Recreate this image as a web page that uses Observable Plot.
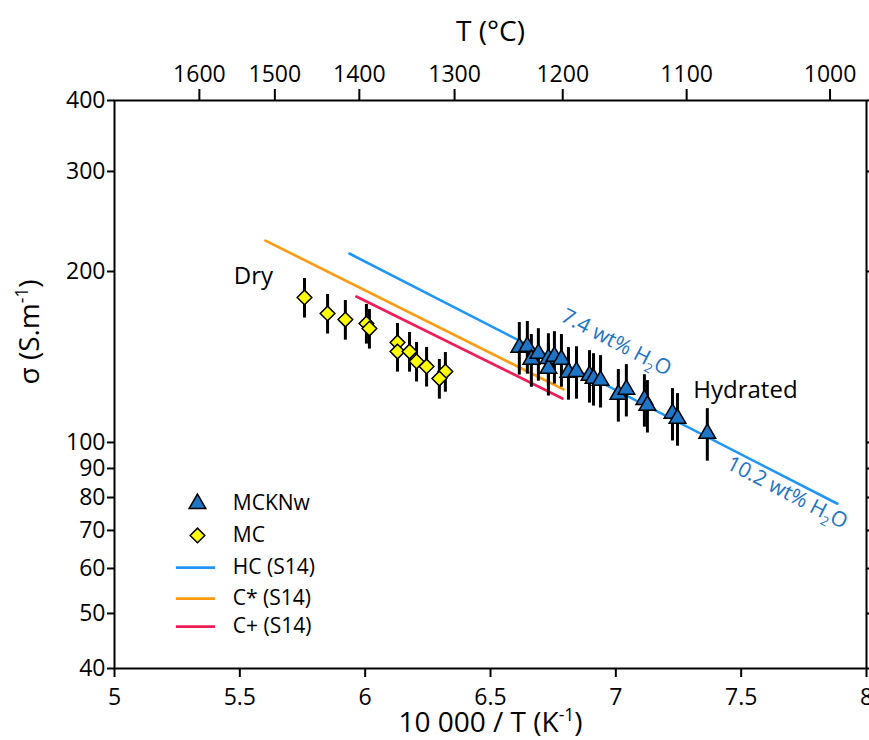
<!DOCTYPE html>
<html>
<head>
<meta charset="utf-8">
<script src="https://cdn.jsdelivr.net/npm/d3@7"></script>
<script src="https://cdn.jsdelivr.net/npm/@observablehq/plot@0.6"></script>
<style>
  html, body { margin: 0; padding: 0; background: white; }
  #chart { width: 869px; height: 740px; }
</style>
</head>
<body>
<div id="chart"></div>
<script>
// ---- Data ----
// MCKNw (hydrated samples): x = 10000/T (K^-1), y = sigma (S/m), err = +/- sigma
const mcknwX = [6.615, 6.647, 6.663, 6.691, 6.731, 6.731, 6.755, 6.783, 6.811, 6.843,
                6.895, 6.911, 6.939, 7.010, 7.042, 7.114, 7.126, 7.226, 7.246, 7.365];
const mcknwY = [147.0, 147.6, 140.0, 143.4, 140.5, 135.0, 141.7, 140.0, 132.8, 133.3,
                131.2, 129.6, 128.6, 121.5, 124.0, 119.0, 116.2, 112.5, 110.2, 103.7];
const mcknwErr = [15.6, 15.7, 14.9, 15.2, 14.9, 14.3, 15.0, 14.9, 14.1, 14.1,
                  13.9, 13.7, 13.6, 12.9, 13.1, 12.6, 12.3, 11.9, 11.7, 11.0];

// MC (dry samples)
const mcX = [5.758, 5.850, 5.921, 6.005, 6.017, 6.129, 6.129, 6.177, 6.205, 6.245, 6.320, 6.296];
const mcY = [180.0, 168.7, 164.6, 162.0, 158.7, 150.0, 144.6, 144.6, 138.9, 136.1, 133.3, 129.6];
const mcErr = [14.4, 13.5, 13.2, 13.0, 12.7, 12.0, 11.6, 11.6, 11.1, 10.9, 10.7, 10.4];

// S14 model lines (end points)
const hcX = [5.937, 7.884],   hcY = [215.1, 78.0];
const cStarX = [5.602, 6.791], cStarY = [226.7, 124.0];
const cPlusX = [5.965, 6.787], cPlusY = [180.7, 119.5];

// Axis ticks
const xTicks = [5, 5.5, 6, 6.5, 7, 7.5, 8];
const yTicks = [40, 50, 60, 70, 80, 90, 100, 200, 300, 400];
const topTicksC = [1000, 1100, 1200, 1300, 1400, 1500, 1600];

// Annotations
const annotText = ["Dry", "Hydrated"];
const annotX = [5.554, 7.517];
const annotY = [196.0, 123.4];
const wtText = ["7.4 wt% H_{2}O", "10.2 wt% H_{2}O"];
const wtX = [7.002, 7.684];
const wtY = [150.0, 81.6];

const legendLabels = ["MCKNw", "MC", "HC (S14)", "C* (S14)", "C+ (S14)"];

// ---- Styles ----
const C_HC = "#1e96f8", C_STAR = "#ff9a0e", C_PLUS = "#ee1d57";
const C_TRI = "#1f76c6", C_DIA = "#ffff00", C_WT = "#1c74c6";

const mcknw = mcknwX.map((x, i) => ({x, y: mcknwY[i], e: mcknwErr[i]}));
const mc = mcX.map((x, i) => ({x, y: mcY[i], e: mcErr[i]}));
const toLine = (xs, ys) => xs.map((x, i) => ({x, y: ys[i]}));
const annots = annotText.map((t, i) => ({t, x: annotX[i], y: annotY[i]}));
const wts = wtText.map((t, i) => ({t, x: wtX[i], y: wtY[i]}));

const plot = Plot.plot({
  width: 869,
  height: 740,
  marginLeft: 114,
  marginRight: 3,
  marginTop: 100,
  marginBottom: 72,
  style: {fontFamily: "'Open Sans', sans-serif", fontSize: "22px", color: "black", background: "white"},
  x: {domain: [5, 8]},
  y: {type: "log", domain: [40, 400]},
  marks: [
    // model lines
    Plot.line(toLine(hcX, hcY), {x: "x", y: "y", stroke: C_HC, strokeWidth: 2.6}),
    Plot.line(toLine(cStarX, cStarY), {x: "x", y: "y", stroke: C_STAR, strokeWidth: 2.6}),
    Plot.line(toLine(cPlusX, cPlusY), {x: "x", y: "y", stroke: C_PLUS, strokeWidth: 2.6}),
    // error bars and points
    Plot.ruleX(mc, {x: "x", y1: d => d.y - d.e, y2: d => d.y + d.e, stroke: "black", strokeWidth: 3}),
    Plot.dot(mc, {x: "x", y: "y", symbol: "diamond2", r: 6.6, fill: C_DIA, stroke: "black", strokeWidth: 1.5}),
    Plot.ruleX(mcknw, {x: "x", y1: d => d.y - d.e, y2: d => d.y + d.e, stroke: "black", strokeWidth: 3}),
    Plot.dot(mcknw, {x: "x", y: "y", symbol: "triangle", r: 6.2, fill: C_TRI, stroke: "black", strokeWidth: 1.5}),
    // annotations
    Plot.text(annots, {x: "x", y: "y", text: "t", fontSize: 24, fill: "black"}),
    Plot.text(wts, {x: "x", y: "y", text: "t", fontSize: 21, fill: C_WT, rotate: 27.5}),
    // legend
    Plot.dot([0], {x: 5.331, y: 78.0, symbol: "triangle", r: 6.2, fill: C_TRI, stroke: "black", strokeWidth: 1.5}),
    Plot.dot([0], {x: 5.331, y: 68.6, symbol: "diamond2", r: 6.6, fill: C_DIA, stroke: "black", strokeWidth: 1.5}),
    Plot.ruleY([60.2], {x1: 5.247, x2: 5.403, stroke: C_HC, strokeWidth: 2.6}),
    Plot.ruleY([53.1], {x1: 5.247, x2: 5.403, stroke: C_STAR, strokeWidth: 2.6}),
    Plot.ruleY([47.4], {x1: 5.247, x2: 5.403, stroke: C_PLUS, strokeWidth: 2.6}),
    Plot.text(legendLabels, {x: 5.472, y: (d, i) => [78.0, 68.6, 60.2, 53.1, 47.4][i], text: d => d, textAnchor: "start", fontSize: 21}),
    // frame & axes
    Plot.frame({stroke: "black", strokeWidth: 2}),
    Plot.axisX({anchor: "bottom", ticks: xTicks, tickFormat: d => String(d), tickSize: 9, tickPadding: 11, strokeWidth: 2, fontSize: 23, label: null}),
    Plot.axisX({anchor: "top", ticks: topTicksC.map(T => 10000 / (T + 273.15)), tickFormat: d => String(Math.round(10000 / d - 273.15)), tickSize: 12, tickPadding: 7, strokeWidth: 2, fontSize: 23, label: null}),
    Plot.axisY({anchor: "left", ticks: yTicks, tickFormat: d => String(d), tickSize: 7, tickPadding: 2, strokeWidth: 2, fontSize: 23, label: null}),
    Plot.axisY({anchor: "right", ticks: yTicks, tickFormat: () => "", tickSize: 6, strokeWidth: 2, label: null}),
    // axis titles
    Plot.text(["T (°C)"], {frameAnchor: "top", dy: -68, lineAnchor: "middle", text: d => d, fontSize: 28}),
    Plot.text(["10 000 / T (K^{-1})"], {frameAnchor: "bottom", dy: 55, lineAnchor: "middle", text: d => d, fontSize: 28}),
    Plot.text(["σ (S.m^{-1})"], {frameAnchor: "left", dx: -84, lineAnchor: "middle", rotate: -90, text: d => d, fontSize: 28})
  ]
});

document.getElementById("chart").appendChild(plot);

// Convert ^{..} and _{..} markers into superscript / subscript tspans
plot.querySelectorAll("text").forEach(el => {
  const s = el.textContent;
  if (!/[\^_]\{/.test(s)) return;
  const fs = parseFloat(getComputedStyle(el).fontSize) || 22;
  const parts = s.split(/([\^_]\{[^}]*\})/);
  while (el.firstChild) el.removeChild(el.firstChild);
  const ns = "http://www.w3.org/2000/svg";
  let shift = 0;
  parts.forEach(p => {
    if (!p) return;
    const t = document.createElementNS(ns, "tspan");
    const m = p.match(/^([\^_])\{([^}]*)\}$/);
    if (m) {
      const up = m[1] === "^";
      const d = up ? -0.4 * fs : 0.28 * fs;
      t.setAttribute("dy", (d - shift).toFixed(2));
      shift = d;
      t.setAttribute("font-size", (0.62 * fs).toFixed(1));
      t.textContent = m[2];
    } else {
      if (shift !== 0) { t.setAttribute("dy", (-shift).toFixed(2)); shift = 0; }
      t.textContent = p;
    }
    el.appendChild(t);
  });
});
</script>
</body>
</html>
